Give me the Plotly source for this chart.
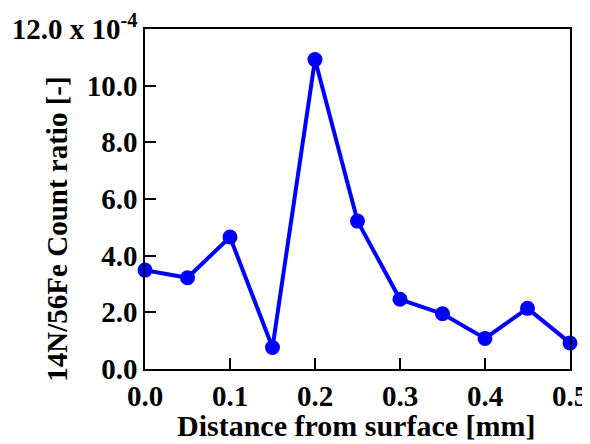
import plotly.graph_objects as go

distance_mm = [0.0, 0.05, 0.1, 0.15, 0.2, 0.25, 0.3, 0.35, 0.4, 0.45, 0.5]
count_ratio = [3.49, 3.22, 4.66, 0.76, 10.92, 5.22, 2.46, 1.95, 1.08, 2.14, 0.92]

y_tickvals = [0, 2, 4, 6, 8, 10, 12]
y_ticktext = ["0.0", "2.0", "4.0", "6.0", "8.0", "10.0", "12.0 x 10<sup>-4</sup>"]
x_tickvals = [0.0, 0.1, 0.2, 0.3, 0.4, 0.5]
x_ticktext = ["0.0", "0.1", "0.2", "0.3", "0.4", "0.5"]

FONT = "Liberation Serif"

fig = go.Figure()
fig.add_trace(go.Scatter(
    x=distance_mm, y=count_ratio, mode="lines+markers",
    line=dict(color="#0000FF", width=4),
    marker=dict(color="#0000FF", size=15),
    cliponaxis=False, showlegend=False,
))

# page body has an 8px default margin, so the figure is sized to fit the window
fig.update_layout(
    width=582, height=436,
    margin=dict(l=137, r=20, t=21, b=75),
    paper_bgcolor="white", plot_bgcolor="white",
    font=dict(family=FONT, color="black"),
)
fig.update_xaxes(
    range=[0, 0.5], tickvals=x_tickvals, ticktext=x_ticktext,
    ticks="inside", ticklen=11, tickwidth=1.5, tickcolor="black",
    showline=True, linecolor="black", linewidth=1.5, mirror=True,
    showgrid=False, zeroline=False, automargin=False,
    tickfont=dict(family=FONT, size=29, weight="bold", color="black"),
)
fig.update_yaxes(
    range=[0, 12], tickvals=y_tickvals, ticktext=y_ticktext,
    ticks="inside", ticklen=11, tickwidth=1.5, tickcolor="black",
    showline=True, linecolor="black", linewidth=1.5, mirror=True,
    showgrid=False, zeroline=False, automargin=False,
    tickfont=dict(family=FONT, size=29, weight="bold", color="black"),
)
fig.add_annotation(
    text="Distance from surface [mm]", xref="paper", yref="paper",
    x=0.498, y=-0.165, xanchor="center", yanchor="middle", showarrow=False,
    font=dict(family=FONT, size=30, weight="bold", color="black"),
)
fig.add_annotation(
    text="14N/56Fe Count ratio [-]", xref="paper", yref="paper",
    x=-0.207, y=0.41, xanchor="center", yanchor="middle", showarrow=False,
    textangle=-90,
    font=dict(family=FONT, size=29, weight="bold", color="black"),
)

fig.write_html("out.html")
